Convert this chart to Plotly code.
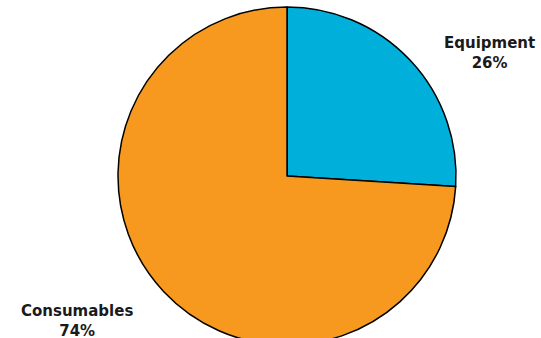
import plotly.graph_objects as go

labels = ["Equipment", "Consumables"]
values = [26, 74]
colors = ["#00AFDA", "#F7991F"]

W, H = 541, 346

fig = go.Figure(go.Pie(
    labels=labels, values=values, sort=False, direction="clockwise", rotation=0,
    marker=dict(colors=colors, line=dict(color="#000000", width=1.5)),
    textinfo="none", hoverinfo="label+percent",
    domain=dict(x=[118 / W, 456 / W], y=[1 / H, 339 / H]),
))

label_pos = [(489, 53), (77, 321)]
for lab, v, (px, py) in zip(labels, values, label_pos):
    fig.add_annotation(
        x=px / W, y=1 - py / H, xref="paper", yref="paper",
        xanchor="center", yanchor="middle",
        text=f"<b>{lab}<br>{v}%</b>", showarrow=False, align="center",
        font=dict(family="DejaVu Sans", size=15, color="#1a1a1a"),
    )

fig.update_layout(
    width=W, height=H, margin=dict(l=0, r=0, t=0, b=0),
    showlegend=False, paper_bgcolor="white",
)
fig.write_html(
    "out.html",
    config={"displayModeBar": False},
    post_script="document.body.style.margin='0';document.body.style.overflow='hidden';",
)
